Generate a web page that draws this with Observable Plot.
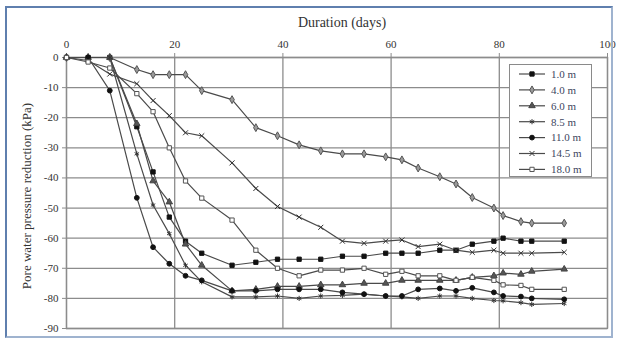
<!DOCTYPE html>
<html>
<head>
<meta charset="utf-8">
<script src="https://cdn.jsdelivr.net/npm/d3@7"></script>
<script src="https://cdn.jsdelivr.net/npm/@observablehq/plot@0.6"></script>
<style>
  html, body { margin: 0; padding: 0; background: #fff; }
  #wrap { position: relative; width: 617px; height: 343px; overflow: hidden; }
  #border { position: absolute; left: 5px; top: 6px; width: 604px; height: 328px;
            border: 2px solid #5f7fae; border-right-color: #9fb3cf; border-bottom-color: #9fb3cf; pointer-events: none; }
  #legend { position: absolute; left: 509px; top: 64px; width: 83px; height: 113px;
            border: 1px solid #8a8a8a; background: #fff; box-sizing: border-box; }
  svg text { font-family: "Liberation Serif", "Times New Roman", Tinos, "DejaVu Serif", "Noto Serif", serif !important; }
</style>
</head>
<body>
<div id="wrap"><div id="chart"></div><div id="legend"></div><div id="border"></div></div>
<script>
const days = [0,4,8,13,16,19,22,25,30.6,35,39,43,47,51,55,59,62,65,69,72,75,79,80.7,84,86,92];
const depths = ["1.0 m","4.0 m","6.0 m","8.5 m","11.0 m","14.5 m","18.0 m"];
const d1_0  = [0,0,0,-23,-38,-53,-61,-65,-69,-68,-67,-67,-67,-66,-66,-65,-65,-65,-64,-64,-62,-61,-60,-61,-61,-61];
const d4_0  = [0,0,0,-4,-5.7,-5.7,-5.7,-11,-14,-23.3,-26,-29,-31,-32,-32,-33,-34,-36.7,-39.6,-42,-46.5,-50,-52.5,-54.5,-55,-55];
const d6_0  = [0,0,0,-22,-41,-48,-62,-69,-77.5,-77,-76,-76,-75.5,-75.5,-75,-75,-74,-74,-74,-74,-73,-72.5,-71.6,-72,-71,-70.3];
const d8_5  = [0,0,0,-32,-49,-58.5,-69,-74.5,-79.5,-79.5,-79.2,-80,-79.2,-79,-78.6,-79.2,-79.5,-80,-79.2,-79.2,-80,-80.7,-80.8,-81.4,-82,-81.7];
const d11_0 = [0,0,-11,-46.6,-63,-68.5,-72.5,-74,-77.5,-77.5,-77,-77,-77,-78,-78.6,-79.2,-79.2,-77,-76.7,-77.5,-76.5,-78,-79.2,-79.4,-80,-80.3];
const d14_5 = [0,-1,-5.5,-8.7,-14.3,-19.3,-25,-26,-35,-43.5,-49.5,-53,-56.4,-61,-61.7,-61,-60.6,-62.8,-62,-64,-64.7,-64,-65,-65,-65,-64.7];
const d18_0 = [0,-1.5,-3.5,-12,-18,-30,-41,-46.7,-54,-64,-70,-72.5,-70.6,-70.6,-70,-72,-71,-72.5,-72.5,-74,-73,-74,-75.5,-75.7,-77,-77];
const xTicks = [0,20,40,60,80,100];
const yTicks = [0,-10,-20,-30,-40,-50,-60,-70,-80,-90];
const xTitle = "Duration (days)";
const yTitle = "Pore water pressure reduction (kPa)";

const seriesValues = [d1_0,d4_0,d6_0,d8_5,d11_0,d14_5,d18_0];
const styles = [
  {symbol:"square",  fill:"#111", stroke:"#111"},
  {symbol:"diamond", fill:"#9a9a9a", stroke:"#555"},
  {symbol:"triangle",fill:"#555", stroke:"#444"},
  {symbol:"asterisk",fill:"none", stroke:"#333"},
  {symbol:"circle",  fill:"#111", stroke:"#111"},
  {symbol:"times",   fill:"none", stroke:"#333"},
  {symbol:"square",  fill:"#fff", stroke:"#555"}
];
const rows = depths.flatMap((name, i) => days.map((d, j) => ({name, day: d, value: seriesValues[i][j]})));

const lineColor = "#4a4a4a";
const marks = [
  Plot.gridX({ticks: xTicks, stroke: "#8c8c8c", strokeOpacity: 1, strokeWidth: 1.3}),
  Plot.gridY({ticks: yTicks, stroke: "#8c8c8c", strokeOpacity: 1, strokeWidth: 1.3}),
  Plot.frame({stroke: "#8c8c8c", strokeWidth: 1.3}),
  Plot.axisX({anchor: "top", ticks: xTicks, tickSize: 5, tickPadding: 5, label: null, tickFormat: d => String(d), stroke: "#8c8c8c"}),
  Plot.axisY({ticks: yTicks, tickSize: 4, tickPadding: 4, label: null, tickFormat: d => String(d), stroke: "#8c8c8c"}),
  Plot.text([xTitle], {frameAnchor: "top", dx: 5, dy: -35, lineAnchor: "middle", textAnchor: "middle", fontSize: 14, fill: "#333"}),
  Plot.text([yTitle], {frameAnchor: "left", rotate: -90, dx: -40, dy: 3, lineAnchor: "middle", textAnchor: "middle", fontSize: 13, fill: "#333"}),
  Plot.line(rows, {x: "day", y: "value", z: "name", stroke: lineColor, strokeWidth: 1.2})
];
depths.forEach((name, i) => {
  const s = styles[i];
  marks.push(Plot.dot(rows.filter(r => r.name === name), {x: "day", y: "value", symbol: () => s.symbol, r: 2.4, fill: s.fill, stroke: s.stroke, strokeWidth: 1}));
});

const chart = Plot.plot({
  width: 617, height: 343,
  marginLeft: 66, marginRight: 10, marginTop: 57, marginBottom: 15,
  x: {domain: [0, 100]},
  y: {domain: [-90, 0]},
  symbol: {type: "identity"},
  style: {fontFamily: "Liberation Serif, Times New Roman, serif", fontSize: "11px", color: "#333", background: "transparent"},
  marks
});
document.getElementById("chart").appendChild(chart);

// legend
const symMap = {square: d3.symbolSquare, diamond: d3.symbolDiamond, triangle: d3.symbolTriangle,
  asterisk: d3.symbolAsterisk, circle: d3.symbolCircle, times: d3.symbolTimes};
const lsvg = d3.select("#legend").append("svg").attr("width", 81).attr("height", 111);
depths.forEach((name, i) => {
  const s = styles[i];
  const g = lsvg.append("g").attr("transform", `translate(0,${9 + i * 15.9})`);
  g.append("line").attr("x1", 9).attr("x2", 35).attr("stroke", lineColor).attr("stroke-width", 1.2);
  g.append("path").attr("d", d3.symbol(symMap[s.symbol], Math.PI * 2.4 * 2.4)()).attr("transform", "translate(22,0)")
    .attr("fill", s.fill).attr("stroke", s.stroke).attr("stroke-width", 1);
  g.append("text").attr("x", 41).attr("dy", "0.35em").text(name)
    .attr("font-size", 11).attr("fill", "#3d4660");
});
</script>
</body>
</html>
